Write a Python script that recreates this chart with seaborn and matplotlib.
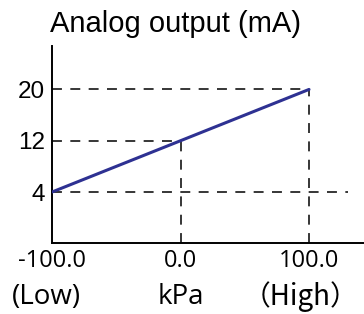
import matplotlib
matplotlib.use("Agg")
import matplotlib.pyplot as plt
import matplotlib.transforms as mtransforms
import seaborn as sns
import pandas as pd

sns.set_theme(style="white")
plt.rcParams["font.family"] = ["Liberation Sans", "DejaVu Sans"]

# data
pressure = [-100.0, 0.0, 100.0]
current = [4, 12, 20]
x_labels = ["-100.0", "0.0", "100.0"]
y_labels = ["4", "12", "20"]
range_labels = ["(Low)", "kPa", "（High）"]

df = pd.DataFrame({"kPa": pressure, "mA": current})

fig = plt.figure(figsize=(3.64, 3.14), dpi=100)
ax = fig.add_axes([0.143, 0.226, 0.857, 0.628])

# dashed guide lines
lw = 1.1
dash = (0, (6.5, 5.5))
guide_end = [130, pressure[1], pressure[2]]
ax.hlines(current, pressure[0], guide_end, colors="black", linewidth=lw,
          linestyles=[dash], zorder=1)
ax.vlines(pressure[1:], -4, current[1:], colors="black", linewidth=lw,
          linestyles=[dash], zorder=1)

sns.lineplot(data=df, x="kPa", y="mA", color="#2e3192", linewidth=2.2,
             ax=ax, zorder=3)

ax.set_xlim(-100, 142.8)
ax.set_ylim(-3.96, 26.8)

for side in ["top", "right"]:
    ax.spines[side].set_visible(False)
for side in ["left", "bottom"]:
    ax.spines[side].set_color("black")
    ax.spines[side].set_linewidth(1.4)

ax.set_xlabel("")
ax.set_ylabel("")
ax.set_yticks(current, y_labels, fontsize=17.5)
ax.set_xticks(pressure, x_labels, fontsize=17,
              family=["Open Sans", "DejaVu Sans"])
ax.tick_params(axis="both", length=0, colors="black")
ax.tick_params(axis="y", pad=5)
ax.tick_params(axis="x", pad=4)

trans = mtransforms.blended_transform_factory(ax.transData, fig.transFigure)
label_x = [-104, pressure[1], 138.5]
label_ha = ["center", "center", "right"]
label_font = [["Open Sans", "DejaVu Sans"], ["Open Sans", "DejaVu Sans"],
              ["Noto Sans CJK SC", "DejaVu Sans"]]
for xv, lab, ha, fam in zip(label_x, range_labels, label_ha, label_font):
    ax.text(xv, 0.055, lab, transform=trans, ha=ha, va="center",
            fontsize=20, color="black", family=fam)

fig.text(0.137, 0.898, "Analog output (mA)", fontsize=21, color="black",
         ha="left", va="baseline")

fig.savefig("out.png", dpi=100)
